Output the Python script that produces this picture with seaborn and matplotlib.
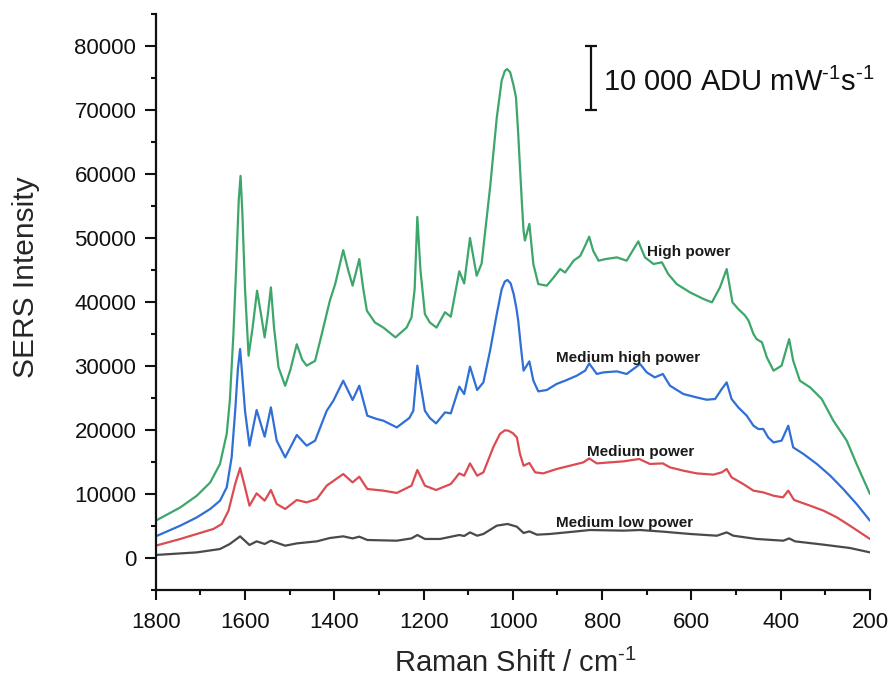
import matplotlib
matplotlib.use("Agg")
import matplotlib.pyplot as plt
from matplotlib.ticker import MultipleLocator
import seaborn as sns
import pandas as pd

# Raman shift (cm-1) and SERS intensity for each laser power setting
high_x = [1800, 1745, 1708, 1678, 1656, 1641, 1634, 1626, 1620, 1614, 1610, 1606, 1600, 1592,
          1583, 1573, 1564, 1556, 1549, 1542, 1535, 1525, 1510, 1498, 1484, 1472, 1462, 1443,
          1428, 1410, 1398, 1380, 1369, 1359, 1344, 1335, 1327, 1309, 1290, 1263, 1238, 1227,
          1220, 1214, 1207, 1197, 1186, 1171, 1152, 1139, 1120, 1109, 1096, 1081, 1070, 1051,
          1036, 1025, 1018, 1013, 1006, 999, 993, 988, 984, 980, 976, 973, 963, 954, 943, 924,
          909, 894, 883, 864, 849, 838, 829, 820, 808, 793, 767, 745, 734, 719, 704, 685, 666,
          652, 633, 603, 573, 554, 536, 521, 508, 495, 480, 472, 461, 454, 442, 431, 416, 398,
          381, 372, 357, 334, 308, 282, 252, 230, 200]
high_y = [5830, 7900, 9730, 11800, 14700, 19400, 24600, 35000, 45000, 56000, 59700, 54000, 42000, 31600,
          36000, 41770, 38000, 34470, 38000, 42280, 36000, 29800, 26900, 29500, 33400, 31000, 30050, 30800,
          35000, 40200, 42800, 48100, 45000, 42550, 46700, 42000, 38640, 36800, 36000, 34470, 36000, 37600,
          42000, 53300, 45000, 38100, 36800, 36000, 38400, 37700, 44800, 42900, 50000, 44100, 46000, 57900,
          68800, 74600, 76100, 76400, 75900, 74000, 72000, 66300, 61000, 55800, 51100, 49600, 52200, 45900, 42800, 42550,
          43800, 45150, 44600, 46450, 47200, 48800, 50200, 48000, 46450, 46700, 46970, 46450, 47750, 49470, 46970, 45940, 46200,
          44375, 42800, 41500, 40470, 39940, 42280, 45150, 39940, 38900, 37900, 37080, 35000, 34200, 33700, 31350, 29270, 30050,
          34200, 30830, 27700, 26650, 24840, 21450, 18330, 14690, 10000]

medhigh_x = [1800, 1745, 1708, 1678, 1656, 1641, 1630, 1622, 1616, 1611, 1605, 1600, 1590, 1574,
             1556, 1542, 1529, 1510, 1484, 1462, 1443, 1417, 1402, 1380, 1359, 1344, 1326, 1305,
             1290, 1260, 1232, 1223, 1214, 1197, 1186, 1172, 1152, 1139, 1120, 1109, 1096, 1080,
             1066, 1051, 1036, 1025, 1018, 1012, 1005, 998, 992, 988, 982, 976, 963, 954, 943, 924,
             902, 883, 857, 838, 829, 812, 797, 767, 745, 730, 715, 700, 682, 664, 648, 618, 588,
             566, 547, 532, 521, 510, 495, 476, 461, 450, 439, 428, 416, 398, 383, 372, 349, 319,
             289, 260, 230, 200]
medhigh_y = [3380, 5050, 6340, 7660, 8950, 11030, 15700, 23000, 29500, 32650, 27500, 23000, 17550, 23120,
             18950, 23530, 18330, 15720, 19220, 17550, 18330, 23000, 24580, 27700, 24690, 26920, 22230, 21720,
             21450, 20400, 21870, 23000, 30050, 23000, 21870, 21030, 22750, 22600, 26770, 25620, 29900, 26250,
             27440, 32400, 38130, 42000, 43200, 43440, 42900, 41200, 39000, 37080, 33000, 29270, 30720, 27700, 26030, 26250,
             27190, 27700, 28480, 29270, 30400, 28750, 29000, 29160, 28750, 29530, 30310, 29000, 28220, 28750, 26920, 25620, 25090,
             24730, 24840, 26400, 27440, 24840, 23530, 22230, 20670, 20150, 20150, 18840, 18060, 18330, 20670, 17280, 16250, 14690,
             12860, 10780, 8440, 5830]

medium_x = [1800, 1745, 1708, 1671, 1652, 1637, 1622, 1611, 1600, 1590, 1574, 1556, 1542, 1529,
            1510, 1484, 1462, 1439, 1417, 1380, 1359, 1344, 1326, 1290, 1260, 1227, 1214, 1197,
            1172, 1139, 1120, 1109, 1096, 1080, 1066, 1044, 1029, 1018, 1010, 1000, 991, 984, 976,
            963, 950, 932, 902, 872, 842, 829, 812, 782, 752, 717, 693, 664, 648, 618, 588, 551,
            532, 521, 510, 484, 461, 439, 416, 395, 383, 370, 334, 304, 274, 245, 200]
medium_y = [1920, 2970, 3750, 4530, 5310, 7390, 11560, 14060, 11030, 8170, 10100, 8950, 10620, 8440,
            7660, 9060, 8690, 9220, 11300, 13120, 11810, 12700, 10780, 10520, 10160, 11300, 13750, 11300,
            10620, 11560, 13220, 12860, 14780, 12860, 13380, 17280, 19380, 19950, 19890, 19500, 18840, 16250, 14420,
            14840, 13380, 13220, 13900, 14420, 14940, 15560, 14780, 14940, 15100, 15470, 14690, 14780, 14160, 13640, 13220, 13020,
            13380, 13900, 12600, 11560, 10520, 10250, 9730, 9470, 10520, 9060, 8170, 7390, 6340, 5050, 2970]

medlow_x = [1800, 1708, 1656, 1634, 1611, 1590, 1574, 1556, 1542, 1510, 1484, 1439, 1410, 1380,
            1359, 1344, 1326, 1260, 1227, 1214, 1197, 1163, 1120, 1109, 1096, 1080, 1066, 1036,
            1012, 991, 976, 963, 946, 917, 864, 827, 752, 715, 663, 603, 543, 521, 506, 454, 394,
            381, 368, 304, 245, 200]
medlow_y = [470, 875, 1400, 2190, 3380, 2030, 2600, 2190, 2700, 1920, 2280, 2600, 3120, 3380,
            3060, 3330, 2810, 2700, 3060, 3590, 2970, 2970, 3590, 3440, 4000, 3480, 3750, 5050,
            5310, 4890, 3900, 4160, 3640, 3750, 4110, 4370, 4270, 4370, 4110, 3750, 3480, 4000, 3480, 2970, 2700,
            3060, 2600, 2080, 1560, 875]

series_names = ["High power", "Medium high power", "Medium power", "Medium low power"]
series_colors = ["#3da66b", "#2f6fd6", "#dd4b52", "#4a4a4a"]
label_x = [699, 904, 835, 904]
label_y = [47750, 31200, 16500, 5470]

frames = []
for name, xs, ys in zip(series_names,
                        [high_x, medhigh_x, medium_x, medlow_x],
                        [high_y, medhigh_y, medium_y, medlow_y]):
    frames.append(pd.DataFrame({"shift": xs, "intensity": ys, "power": name}))
spectra = pd.concat(frames, ignore_index=True)

sns.set_style("ticks")
plt.rcParams["font.family"] = ["Liberation Sans", "DejaVu Sans"]
plt.rcParams["mathtext.fontset"] = "custom"
plt.rcParams["mathtext.rm"] = "Liberation Sans"
plt.rcParams["mathtext.it"] = "Liberation Sans:italic"
plt.rcParams["mathtext.default"] = "regular"

fig = plt.figure(figsize=(8.93, 6.83), dpi=100)
ax = fig.add_axes([0.1744, 0.1362, 0.7998, 0.8433])

sns.lineplot(data=spectra, x="shift", y="intensity", hue="power",
             hue_order=series_names, palette=series_colors, sort=False,
             estimator=None, linewidth=1.6, legend=False, ax=ax)

ax.set_xlim(1800, 200)
ax.set_ylim(-5000, 85000)
ax.xaxis.set_major_locator(MultipleLocator(200))
ax.xaxis.set_minor_locator(MultipleLocator(100))
ax.yaxis.set_major_locator(MultipleLocator(10000))
ax.yaxis.set_minor_locator(MultipleLocator(5000))
ax.set_yticks(range(0, 80001, 10000))

for side in ["top", "right"]:
    ax.spines[side].set_visible(False)
for side in ["left", "bottom"]:
    ax.spines[side].set_linewidth(1.6)
    ax.spines[side].set_color("#111111")
ax.tick_params(axis="x", which="major", direction="out", length=7.5, width=1.5,
               labelsize=16, pad=8.5, colors="#111111")
ax.tick_params(axis="y", which="major", direction="out", length=8, width=1.5,
               labelsize=16, pad=6, colors="#111111")
ax.tick_params(which="minor", direction="out", length=3.6, width=1.5, colors="#111111")

hy = "\u2010"
ax.set_xlabel("Raman Shift / cm$^{" + hy + "1}$", fontsize=21, va="baseline")
ax.xaxis.set_label_coords(0.503, -0.1424)
ax.set_ylabel("SERS Intensity", fontsize=21.5, va="center")
ax.yaxis.set_label_coords(-0.182, 0.5425)

for name, lx, ly in zip(series_names, label_x, label_y):
    ax.text(lx, ly, name, fontsize=11, fontweight="bold", ha="left", va="center",
            color="#1a1a1a")

# 10 000 unit scale bar
ax.errorbar([825], [75000], yerr=[5000], color="#111111", capsize=4,
            elinewidth=1.6, capthick=1.6)
ax.text(798, 73000, "10 000 ADU mW$^{" + hy + "1}$s$^{" + hy + "1}$", fontsize=21,
        ha="left", va="baseline", color="#111111")

fig.savefig("out.png", dpi=100, facecolor="white")
